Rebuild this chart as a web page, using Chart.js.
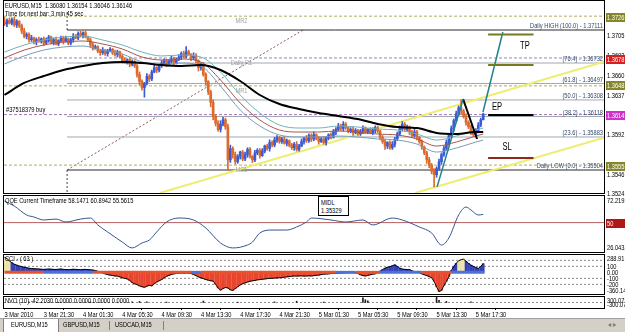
<!DOCTYPE html>
<html>
<head>
<meta charset="utf-8">
<title>EURUSD,M15</title>
<script src="https://cdn.jsdelivr.net/npm/chart.js@4.4.1/dist/chart.umd.min.js"></script>
<style>
  html, body { margin: 0; padding: 0; background: #fff; }
  body { position: relative; width: 625px; height: 332px; overflow: hidden;
         font-family: 'Liberation Sans', Arial, sans-serif; font-size: 7.5px; color: #000; }
  canvas { position: absolute; left: 0; }
  .lbl { position: absolute; white-space: nowrap; line-height: 8px; z-index: 5;
         transform: scaleX(0.76); transform-origin: 0 0; }
  #midl { position: absolute; left: 318px; top: 196px; width: 29px; height: 18px; border: 1px solid #000;
          background: #fff; z-index: 6; }
  #midl span { position: absolute; left: 2px; white-space: nowrap; line-height: 8px;
               transform: scaleX(0.76); transform-origin: 0 0; }
  #tabs { position: absolute; left: 0; top: 318px; width: 625px; height: 14px; background: #d4d0c8;
          border-top: 1px solid #a0a0a0; z-index: 5; }
  .tab { position: absolute; top: 0; height: 13px; line-height: 12px; }
  .tab span { display: inline-block; transform: scaleX(0.76); transform-origin: 0 0; white-space: nowrap; }
  .sel { background: #fff; border-left: 1px solid #808080; border-right: 1px solid #808080; }
  .sep { position: absolute; top: 2px; width: 1px; height: 9px; background: #808080; }
</style>
</head>
<body>
<canvas id="main" width="625" height="198" style="top:0"></canvas>
<canvas id="qqe" width="625" height="68" style="top:190px"></canvas>
<canvas id="cci" width="625" height="50" style="top:249px"></canvas>
<canvas id="nvo" width="625" height="27" style="top:291px"></canvas>

<div class="lbl" style="left:5px;top:2px">EURUSD,M15&nbsp; 1.36080 1.36154 1.36046 1.36146</div>
<div class="lbl" style="left:5px;top:10px">Time for next bar: 3 min 45 sec</div>
<div class="lbl" style="left:5px;top:197px">QQE Current Timeframe 58.1471 60.8942 55.5615</div>
<div class="lbl" style="left:5px;top:255px">CCI - ( 63 )</div>
<div class="lbl" style="left:5px;top:297px">NVO (10) -42.2030 0.0000 0.0000 0.0000 0.0000</div>
<div id="midl"><span style="top:2px">MIDL</span><span style="top:10px">1.35329</span></div>

<div id="tabs">
  <div class="tab sel" style="left:3px;width:54px"><span style="margin-left:7px">EURUSD,M15</span></div>
  <div class="tab" style="left:63px;width:44px"><span>GBPUSD,M15</span></div>
  <div class="sep" style="left:109px"></div>
  <div class="tab" style="left:115px;width:46px"><span>USDCAD,M15</span></div>
  <div class="sep" style="left:163px"></div>
  <div class="tab" style="left:608px;width:16px;color:#777"><span>&#9666;&nbsp;&#9656;</span></div>
</div>

<script>
// ---- price data (M15 bars, 3 Mar 17:30 .. 5 Mar 18:15) ----
const PIP = 0.0001;
const firstOpen = 1.3720;
const closes = [
  1.3718, 1.3722, 1.3719, 1.3723, 1.3717, 1.3721, 1.3716, 1.3710, 1.3704, 1.3706,
  1.3700, 1.3702, 1.3697, 1.3700, 1.3698, 1.3701, 1.3696, 1.3699, 1.3703, 1.3697,
  1.3700, 1.3695, 1.3699, 1.3702, 1.3698, 1.3701, 1.3696, 1.3700, 1.3704, 1.3702,
  1.3707, 1.3705, 1.3708, 1.3703, 1.3700, 1.3694, 1.3690, 1.3692, 1.3687, 1.3685,
  1.3688, 1.3684, 1.3687, 1.3689, 1.3685, 1.3683, 1.3686, 1.3681, 1.3676, 1.3674,
  1.3677, 1.3672, 1.3675, 1.3670, 1.3660, 1.3652, 1.3645, 1.3650, 1.3658, 1.3655,
  1.3663, 1.3668, 1.3665, 1.3670, 1.3673, 1.3676, 1.3672, 1.3675, 1.3678, 1.3674,
  1.3677, 1.3680, 1.3684, 1.3681, 1.3686, 1.3683, 1.3679, 1.3682, 1.3676, 1.3668,
  1.3671, 1.3660, 1.3652, 1.3640, 1.3628, 1.3612, 1.3604, 1.3597, 1.3603, 1.3608,
  1.3600, 1.3562, 1.3575, 1.3568, 1.3560, 1.3566, 1.3571, 1.3563, 1.3568, 1.3574,
  1.3566, 1.3562, 1.3570, 1.3573, 1.3567, 1.3572, 1.3578, 1.3575, 1.3582, 1.3579,
  1.3585, 1.3588, 1.3583, 1.3586, 1.3581, 1.3584, 1.3579, 1.3576, 1.3580, 1.3574,
  1.3578, 1.3583, 1.3587, 1.3584, 1.3590, 1.3586, 1.3591, 1.3587, 1.3583, 1.3586,
  1.3582, 1.3587, 1.3591, 1.3588, 1.3594, 1.3597, 1.3601, 1.3598, 1.3603, 1.3599,
  1.3595, 1.3597, 1.3593, 1.3596, 1.3592, 1.3595, 1.3598, 1.3594, 1.3597, 1.3593,
  1.3596, 1.3599, 1.3595, 1.3588, 1.3583, 1.3578, 1.3582, 1.3576, 1.3580, 1.3586,
  1.3592, 1.3598, 1.3603, 1.3597, 1.3600, 1.3594, 1.3590, 1.3594, 1.3588, 1.3583,
  1.3577, 1.3570, 1.3562, 1.3556, 1.3549, 1.3545, 1.3552, 1.3560, 1.3568, 1.3575,
  1.3582, 1.3590, 1.3598, 1.3607, 1.3615, 1.3622, 1.3618, 1.3612, 1.3605, 1.3600,
  1.3594, 1.3591, 1.3596, 1.3602, 1.3608, 1.36146
];
// wick lengths in pips above / below the body
const upWick = [
  6,2,3,2,3,2,1,2,3,2, 2,3,1,2,3,1,2,3,2,1, 2,3,1,2,2,3,1,2,3,2, 2,3,1,2,1,2,3,2,1,2,
  3,1,2,2,1,3,2,1,2,3, 1,2,2,1,2,3,2,1,3,2, 2,3,1,2,3,2,1,2,3,2, 2,3,2,3,6,2,1,3,2,1,
  2,3,2,1,2,3,2,3,4,3, 2,3,4,2,3,2,1,2,3,2, 2,1,3,2,2,3,1,2,3,2, 3,2,1,2,3,2,1,2,2,3,
  2,3,1,3,2,2,3,1,2,2, 3,2,1,2,3,2,3,2,3,2, 1,2,3,2,1,2,3,2,1,2, 3,2,2,1,2,3,1,2,3,2,
  2,3,3,2,2,1,2,3,2,1, 2,1,2,3,2,3,2,3,2,3, 3,2,3,2,3,2,9,2,3,2, 2,3,2,3,2,1
];
const dnWick = [
  2,3,1,2,2,3,2,3,2,3, 3,2,2,3,1,2,3,1,2,2, 3,1,2,2,3,1,2,2,3,1, 2,2,3,1,2,3,2,1,2,3,
  2,2,3,1,2,2,3,2,3,1, 2,3,2,2,3,4,3,11,2,3, 2,1,3,2,2,1,3,2,2,3, 2,1,3,2,2,1,3,2,3,4,
  3,2,4,3,5,4,3,2,3,2, 3,12,3,4,3,2,3,2,2,3, 2,3,2,2,3,1,2,2,3,2, 2,3,2,2,1,3,2,2,3,2,
  2,1,3,2,2,3,2,2,3,1, 2,3,2,2,1,3,2,2,3,2, 2,2,3,1,2,2,3,2,2,1, 2,3,2,3,2,4,3,2,2,3,
  2,2,3,2,2,3,2,2,3,2, 3,2,4,3,3,14,3,2,3,2, 2,3,2,3,2,2,3,2,3,2, 3,2,2,3,2,0
];

// moving averages, sampled at bar indices
const maIdx    = [0, 8, 16, 24, 32, 40, 48, 56, 64, 72, 80, 88, 96, 104, 112, 120, 128, 136, 144, 152, 160, 168, 176, 184, 192, 195];
const maSlow   = [1.36365, 1.36503, 1.36583, 1.36652, 1.36698, 1.36732, 1.36744, 1.36732, 1.36709, 1.36698, 1.36709, 1.36652, 1.36526,
                  1.36365, 1.36261, 1.36204, 1.36158, 1.36124, 1.36089, 1.36032, 1.35997, 1.35986, 1.35929, 1.35917, 1.35940, 1.35940];
const envUp    = [1.36858, 1.36939, 1.36996, 1.37031, 1.37042, 1.36996, 1.36939, 1.36858, 1.36813, 1.36824, 1.36801, 1.36629, 1.36365,
                  1.36158, 1.36020, 1.35986, 1.35986, 1.36009, 1.35997, 1.35974, 1.35963, 1.35917, 1.35848, 1.35894, 1.35963, 1.35986];
const envMid   = [1.36790, 1.36881, 1.36939, 1.36973, 1.36985, 1.36950, 1.36893, 1.36801, 1.36767, 1.36778, 1.36744, 1.36537, 1.36273,
                  1.36078, 1.35963, 1.35940, 1.35940, 1.35952, 1.35940, 1.35917, 1.35906, 1.35860, 1.35779, 1.35825, 1.35894, 1.35917];
const envLow   = [1.36721, 1.36813, 1.36881, 1.36916, 1.36927, 1.36881, 1.36835, 1.36744, 1.36709, 1.36732, 1.36698, 1.36468, 1.36193,
                  1.36009, 1.35906, 1.35883, 1.35883, 1.35894, 1.35883, 1.35860, 1.35848, 1.35802, 1.35710, 1.35756, 1.35825, 1.35848];

// daily fibonacci + pivots
const fibLevels = [1.37111, 1.36732, 1.36497, 1.36308, 1.36118, 1.35883, 1.35504];
const fibNames  = ['Daily HIGH (100.0)', '(76.4)', '(61.8)', '(50.0)', '(38.2)', '(23.6)', 'Daily LOW (0.0)'];
const fibFrom   = 25.5;   // bar index where the fib starts
const fibTo     = 121.6;  // bar index where the fib trend line reaches the high
const fibTopMark = 1.3734;
const pivotLevels = [1.3727, 1.3679, 1.3647, 1.3556];
const pivotNames  = ['MR2', 'Daily R1', 'MR1', 'MS1'];
const orderPrice  = 1.3614;

// axis tags and ticks
const priceTicks = [1.3705, 1.3682, 1.3660, 1.3637, 1.3592, 1.3546, 1.3524];
const tagPrices  = [1.3726, 1.3678, 1.3648, 1.3614, 1.3555];

// hand drawn objects (bar index, price)
const yellowLines = [[[63.3, 1.3524], [244.2, 1.36746]], [[167.2, 1.3524], [244.2, 1.35875]]];
const tealLines   = [[[176.2, 1.3531], [186.8, 1.36319]], [[194.9, 1.3617], [203, 1.37088]]];
const zigzag      = [[186.8, 1.36319], [192.5, 1.3586]];
const tradeFrom = 197, tradeTo = 215.5;
const tpHigh = 1.37059, tpLow = 1.36709, entry = 1.36135, stop = 1.35642;
const tradeText = [['TP', 212, 1.3692], ['EP', 200.6, 1.3622], ['SL', 204.7, 1.3577]];

// QQE
const qqeIdx = [0, 4, 9, 12, 16, 21, 25, 31, 35, 38, 42, 48, 52, 56, 59, 62, 66, 71, 77, 82, 88, 93, 99, 101, 104,
                109, 115, 119, 123, 125, 133, 139, 146, 150, 158, 162, 169, 174, 178, 181, 185, 188, 190, 193, 195];
const qqeVal = [71.2, 66.3, 57.5, 55.5, 52.6, 53.5, 50.6, 53.5, 54.5, 47.7, 40.8, 30.9, 25.1, 30.0, 32.9, 40.8, 50.6, 54.5,
                52.6, 44.7, 30.0, 25.1, 28.0, 30.9, 39.8, 42.7, 42.7, 45.7, 50.6, 54.5, 52.6, 50.6, 52.6, 47.7, 54.5, 52.6,
                45.7, 39.8, 28.0, 34.9, 57.5, 65.3, 62.4, 57.5, 58.1];
const qqeTicks = [72.2195, 50, 26.0432];

// CCI (one value per bar)
const cci = [
  250, 230, 190, 160, 135, 120, 105, 95, 85, 78,   68, 64, 60, 58, 55, 52, 50, 52, 55, 53,
  50, 48, 52, 55, 50, 47, 45, 48, 52, 50,          46, 44, 48, 50, 46, 42, 38, 30, 18, 5,
  -10, -25, -38, -45, -52, -60, -62, -75, -90, -100, -110, -135, -170, -190, -205, -225, -240, -248, -230, -215,
  -225, -190, -160, -140, -120, -90, -65, -50, -35, -25, -18, -14, -12, -15, -10, -14, -20, -35, -55, -75,
  -90, -105, -120, -130, -140, -145, -200, -260, -295, -270, -250, -260, -290, -300, -270, -240, -210, -190, -175, -160,
  -150, -140, -135, -125, -120, -115, -110, -105, -100, -98, -95, -92, -90, -85, -80, -75, -70, -65, -60, -62,
  -60, -58, -62, -60, -58, -60, -55, -50, -45, -38, -30, -28, -25, -20, -18, -15, -14, -10, -6, -3,
  2, 4, 0, -8, -20, -40, -55, -60, -50, -40,       -30, -25, 5, 20, 45, 70, 85, 95, 110, 125,
  100, 70, 55, 50, 48, 45, 25, 10, 3, -5,          -25, -40, -55, -70, -90, -150, -240, -320, -300, -220,
  -150, -70, 30, 100, 150, 195, 210, 220, 185, 150, 120, 100, 80, 65, 100, 145
];
const cciLevels = [200, 100, -100, -200];
const cciTicks = [100, 0, -100, -200];
const stripStart = [0, 16, 36, 76, 80, 135, 143, 153, 170, 182];
const stripDir   = [-1, 1, -1, 1, -1, 1, -1, 1, -1, 1];

// NVO spikes
const nvoIdx = [10, 22, 35, 52, 55, 58, 66, 81, 95, 110, 119, 130, 146, 147, 148, 160, 176, 177, 180, 190];
const nvoVal = [20, 15, 25, 40, 60, 30, 25, 80, 20, 30, 70, 25, 260, 150, 90, 30, 280, 120, 60, 40];

// time axis
const timeIdx = [0, 16, 32, 48, 64, 80, 96, 112, 128, 144, 160, 176, 192];
const timeLabels = ['3 Mar 2010', '3 Mar 21:30', '4 Mar 01:30', '4 Mar 05:30', '4 Mar 09:30', '4 Mar 13:30', '4 Mar 17:30',
                    '4 Mar 21:30', '5 Mar 01:30', '5 Mar 05:30', '5 Mar 09:30', '5 Mar 13:30', '5 Mar 17:30'];

// ---- chart setup ----
const FONT = "'Liberation Sans', Arial, sans-serif";
const FSIZE = 7.5;
const SQ = 0.76;                       // MT4 text is narrow
const X_MIN = -0.2, X_MAX = 244.2;
const AXIS_W = 21;
const BULL = '#3b5bd6', BEAR = '#db6a2c';
const TAG_BG = ['#85852a', '#d42020', '#85852a', '#cc33cc', '#85852a'];

Chart.defaults.font.family = FONT;
Chart.defaults.font.size = 7;
Chart.defaults.color = '#000';
Chart.defaults.animation = false;
Chart.defaults.events = [];
Chart.defaults.plugins.legend.display = false;
Chart.defaults.plugins.tooltip.enabled = false;

function narrowText(ctx, text, x, y, align, baseline) {
  ctx.save();
  ctx.translate(x, y);
  ctx.scale(SQ, 1);
  ctx.textAlign = align || 'left';
  ctx.textBaseline = baseline || 'middle';
  ctx.fillText(text, 0, 0);
  ctx.restore();
}

const tagLookup = {
  main: v => {
    const k = tagPrices.findIndex(t => Math.abs(t - v) < 1e-7);
    return k >= 0 ? TAG_BG[k] : null;
  },
  qqe: v => v === 50 ? '#b01818' : null
};

// frame, axis labels and edge labels, MT4 style
Chart.register({
  id: 'mtLook',
  afterDraw(chart, args, opts) {
    const { ctx, chartArea: a, scales: { x, y } } = chart;
    const id = chart.canvas.id;
    ctx.save();
    ctx.strokeStyle = '#000';
    ctx.lineWidth = 1;
    ctx.strokeRect(Math.round(a.left) - 0.5, Math.round(a.top) - 0.5,
                   Math.round(a.right - a.left) + 1, Math.round(a.bottom - a.top) + 1);
    ctx.font = FSIZE + 'px ' + FONT;
    const tag = tagLookup[id] || (() => null);
    y.ticks.forEach(t => {
      const py = Math.round(y.getPixelForValue(t.value));
      const bg = tag(t.value);
      if (bg) {
        ctx.fillStyle = bg;
        ctx.fillRect(a.right + 2, py - 4, AXIS_W, 9);
      }
      ctx.fillStyle = bg ? '#fff' : '#000';
      narrowText(ctx, t.label, a.right + 3, py + 0.5);
    });
    ctx.fillStyle = '#000';
    if (opts.edges) {
      narrowText(ctx, y.max.toFixed(2), a.right + 3, a.top, 'left', 'top');
      narrowText(ctx, y.min.toFixed(2), a.right + 3, a.bottom + 1, 'left', 'bottom');
    }
    if (opts.time) {
      x.ticks.forEach(t => narrowText(ctx, t.label, x.getPixelForValue(t.value), a.bottom + 3, 'left', 'top'));
    }
    ctx.restore();
  }
});

function seg(points, color, width, dash, order, tension) {
  return {
    type: 'line', data: points, borderColor: color, borderWidth: width, borderDash: dash || [],
    pointRadius: 0, fill: false, tension: tension || 0, cubicInterpolationMode: tension ? 'monotone' : 'default',
    order: order, borderCapStyle: 'butt'
  };
}
const pts = pairs => pairs.map(p => ({ x: p[0], y: p[1] }));

function xAxis() {
  return { type: 'linear', min: X_MIN, max: X_MAX, offset: false, display: false };
}
function yAxis(min, max, ticks, fmt) {
  return {
    position: 'right', min: min, max: max,
    grid: { display: false, drawTicks: false },
    border: { display: false },
    afterFit: s => { s.width = AXIS_W; },
    afterBuildTicks: s => { s.ticks = ticks.map(v => ({ value: v })); },
    ticks: { display: false, autoSkip: false, callback: fmt }
  };
}

// ---- main price window ----
const opens = closes.map((c, i) => i ? closes[i - 1] : firstOpen);
const candleColor = c => closes[c.dataIndex] >= opens[c.dataIndex] ? BULL : BEAR;
const bodies = closes.map((c, i) => ({ x: i, y: [opens[i], c] }));
const wicks = closes.map((c, i) => ({
  x: i, y: [Math.min(opens[i], c) - dnWick[i] * PIP, Math.max(opens[i], c) + upWick[i] * PIP]
}));
const Y_MIN = 1.3524, Y_MAX = 1.37444;

const mainSets = [];
fibLevels.forEach((p, k) => {
  const edge = k === 0 || k === fibLevels.length - 1;
  mainSets.push(seg(pts([[fibFrom, p], [X_MAX, p]]), edge ? '#2a2a2a' : '#9ea9b2', 1, [], 60));
});
mainSets.push(seg(pts([[fibFrom, fibLevels[6]], [fibTo, fibLevels[0]]]), '#8a5a5a', 1, [2, 2], 60));
mainSets.push(seg(pts([[fibFrom, fibLevels[6]], [fibFrom, Y_MIN]]), '#444', 1, [2, 2], 60));
mainSets.push(seg(pts([[fibFrom, fibLevels[0]], [fibFrom, fibTopMark]]), '#444', 1, [2, 2], 60));
pivotLevels.forEach((p, k) => {
  mainSets.push(seg(pts([[X_MIN, p], [X_MAX, p]]), k === 1 ? '#9a86a8' : '#b0ad60', 1, [3, 2], 58));
});
mainSets.push(seg(pts([[X_MIN, orderPrice], [X_MAX, orderPrice]]), '#a874b8', 1, [3, 2], 58));
yellowLines.forEach(l => mainSets.push(seg(pts(l), '#eded70', 2, [], 50)));
mainSets.push({ type: 'bar', data: wicks, backgroundColor: candleColor, barThickness: 1, grouped: false, order: 31 });
mainSets.push({ type: 'bar', data: bodies, backgroundColor: candleColor, barThickness: 2, grouped: false, minBarLength: 1, order: 30 });
mainSets.push(seg(maIdx.map((x, k) => ({ x, y: envUp[k] })), '#70b2ba', 1, [], 22, 0.4));
mainSets.push(seg(maIdx.map((x, k) => ({ x, y: envMid[k] })), '#a8554c', 1, [], 21, 0.4));
mainSets.push(seg(maIdx.map((x, k) => ({ x, y: envLow[k] })), '#7a9cb8', 1, [], 22, 0.4));
mainSets.push(seg(maIdx.map((x, k) => ({ x, y: maSlow[k] })), '#000', 2, [], 20, 0.4));
tealLines.forEach(l => mainSets.push(seg(pts(l), '#23808e', 1.5, [], 10)));
mainSets.push(seg(pts(zigzag), '#000', 2, [], 10));
mainSets.push(seg(pts([[tradeFrom, tpHigh], [tradeTo, tpHigh]]), '#767a20', 2, [], 9));
mainSets.push(seg(pts([[tradeFrom, tpLow], [tradeTo, tpLow]]), '#767a20', 2, [], 9));
mainSets.push(seg(pts([[tradeFrom, entry], [tradeTo, entry]]), '#000', 2, [], 9));
mainSets.push(seg(pts([[tradeFrom, stop], [tradeTo, stop]]), '#8e2a1c', 2, [], 9));

const mainText = {
  id: 'mainText',
  afterDatasetsDraw(chart) {
    const { ctx, chartArea: a, scales: { x, y } } = chart;
    ctx.save();
    ctx.font = FSIZE + 'px ' + FONT;
    ctx.fillStyle = '#34496e';
    fibLevels.forEach((p, k) =>
      narrowText(ctx, fibNames[k] + ' - ' + p.toFixed(5), a.right - 1, y.getPixelForValue(p), 'right', 'bottom'));
    ctx.fillStyle = '#a0a0a0';
    pivotNames.forEach((n, k) =>
      narrowText(ctx, n, x.getPixelForValue(96.5), y.getPixelForValue(pivotLevels[k]) + 1, 'center', 'top'));
    ctx.fillStyle = '#000';
    narrowText(ctx, '#37518379 buy', a.left + 2, y.getPixelForValue(orderPrice) - 1, 'left', 'bottom');
    ctx.font = '10px ' + FONT;
    tradeText.forEach(t => narrowText(ctx, t[0], x.getPixelForValue(t[1]), y.getPixelForValue(t[2]), 'center', 'middle'));
    ctx.restore();
  }
};

new Chart(document.getElementById('main'), {
  type: 'bar',
  data: { datasets: mainSets },
  options: {
    responsive: false,
    layout: { padding: { left: 4, right: 0, top: 1, bottom: 5 } },
    scales: {
      x: xAxis(),
      y: yAxis(Y_MIN, Y_MAX, priceTicks.concat(tagPrices), v => v.toFixed(4))
    }
  },
  plugins: [mainText]
});

// ---- QQE window ----
new Chart(document.getElementById('qqe'), {
  type: 'line',
  data: {
    datasets: [
      seg(qqeIdx.map((x, k) => ({ x, y: qqeVal[k] })), '#35558f', 1, [], 10, 0.25),
      seg(pts([[X_MIN, 50], [X_MAX, 50]]), '#b86060', 1, [], 20)
    ]
  },
  options: {
    responsive: false,
    layout: { padding: { left: 4, right: 0, top: 6, bottom: 6 } },
    scales: {
      x: xAxis(),
      y: yAxis(21.13, 76.15, qqeTicks, v => v === 50 ? '50' : v.toFixed(4))
    }
  }
});

// ---- CCI window ----
new Chart(document.getElementById('cci'), {
  type: 'bar',
  data: {
    datasets: [
      { type: 'bar', data: cci.map((v, i) => ({ x: i, y: v })), grouped: false, barThickness: 2, order: 30,
        backgroundColor: c => c.raw.y >= 190 ? '#ece3a8' : (c.raw.y >= 0 ? '#3240b8' : '#e8452c') },
      seg(cci.map((v, i) => ({ x: i, y: v })), '#000', 1, [], 20),
      ...cciLevels.map(v => seg(pts([[X_MIN, v], [X_MAX, v]]), '#8a8a8a', 1, [2, 2], 40)),
      Object.assign(seg(stripStart.concat([closes.length - 0.5]).map(x => ({ x, y: 0 })), '#e8522f', 3, [], 10), {
        segment: { borderColor: c => stripDir[c.p0DataIndex] > 0 ? '#4a72d8' : '#e8522f' }
      })
    ]
  },
  options: {
    responsive: false,
    layout: { padding: { left: 4, right: 0, top: 6, bottom: 5 } },
    plugins: { mtLook: { edges: true } },
    scales: {
      x: xAxis(),
      y: yAxis(-360.14, 288.91, cciTicks, v => v === 0 ? '0.00' : String(v))
    }
  }
});

// ---- NVO window with time axis ----
new Chart(document.getElementById('nvo'), {
  type: 'bar',
  data: {
    datasets: [
      { type: 'bar', data: nvoIdx.map((x, k) => ({ x, y: [0, nvoVal[k]] })), grouped: false, barThickness: 1,
        backgroundColor: '#202020', order: 20 },
      seg(pts([[X_MIN, 0], [X_MAX, 0]]), '#909090', 1, [2, 2], 30)
    ]
  },
  options: {
    responsive: false,
    layout: { padding: { left: 4, right: 0, top: 6, bottom: 0 } },
    plugins: { mtLook: { edges: true, time: true } },
    scales: {
      x: {
        type: 'linear', min: X_MIN, max: X_MAX, offset: false,
        grid: { display: true, drawOnChartArea: false, drawTicks: true, tickLength: 2, color: '#000' },
        border: { display: false },
        afterBuildTicks: s => { s.ticks = timeIdx.map(v => ({ value: v })); },
        afterFit: s => { s.height = 10; },
        ticks: { display: false, autoSkip: false, maxRotation: 0, callback: (v, i) => timeLabels[i] }
      },
      y: yAxis(-300.07, 300.07, [], v => String(v))
    }
  }
});
</script>
</body>
</html>
